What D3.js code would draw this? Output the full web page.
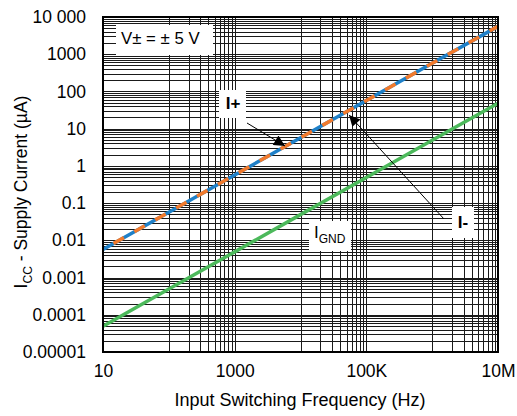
<!DOCTYPE html>
<html lang="en">
<head>
  <meta charset="UTF-8">
  <title>Supply Current vs Input Switching Frequency</title>
  <script src="https://cdn.jsdelivr.net/npm/d3@7/dist/d3.min.js"></script>
  <style>
    body{ margin:0; background:#fff; }
    svg text{ font-family: "Liberation Sans", Arial, sans-serif; fill:#000; }
  </style>
</head>
<body>
<div class="chart"></div>
<script>
// frequencies (Hz) and currents (uA)
const freq = [10, 100, 1000, 10000, 100000, 1000000, 10000000];
const iPlus = [0.0057, 0.057, 0.57, 5.7, 57, 570, 5600];
const iMinus = [0.0057, 0.057, 0.57, 5.7, 57, 570, 5600];
const iGnd = [0.000049, 0.00049, 0.0049, 0.049, 0.49, 4.9, 48];

const xTicks = [10, 1000, 100000, 10000000];
const xTickLabels = ['10', '1000', '100K', '10M'];
const yTicks = [1e4, 1e3, 100, 10, 1, 0.1, 0.01, 0.001, 0.0001, 0.00001];
const yTickLabels = ['10 000', '1000', '100', '10', '1', '0.1', '0.01', '0.001', '0.0001', '0.00001'];

const W = 517, H = 416;
const plot = {left: 103, right: 498, top: 17, bottom: 352};
const FS = '17.5px';

const svg = d3.select('.chart').append('svg').attr('width', W).attr('height', H);

const x = d3.scaleLog().domain([10, 1e7]).range([plot.left, plot.right]);
const y = d3.scaleLog().domain([1e-5, 1e4]).range([plot.bottom, plot.top]);

// grid: vertical minors sit at k * 10^(2n+2) between the 2-decade majors
let xGrid = [];
for (let i = 0; i < xTicks.length - 1; i++) {
  const step = xTicks[i] * 10;
  for (let k = 1; k <= 9; k++) xGrid.push(step * k);
}
let yGrid = [];
for (let e = -5; e < 4; e++) {
  for (let k = 2; k <= 9; k++) yGrid.push(k * Math.pow(10, e));
}

const grid = svg.append('g').attr('shape-rendering', 'crispEdges');
grid.selectAll('.hy').data(yGrid.concat(yTicks)).enter().append('line')
  .attr('x1', plot.left).attr('x2', plot.right)
  .attr('y1', d => Math.round(y(d)) + 0.5).attr('y2', d => Math.round(y(d)) + 0.5)
  .attr('stroke', '#1a1a1a').attr('stroke-width', 1);
grid.selectAll('.vx').data(xGrid.concat(xTicks)).enter().append('line')
  .attr('y1', plot.top).attr('y2', plot.bottom)
  .attr('x1', d => Math.round(x(d)) + 0.5).attr('x2', d => Math.round(x(d)) + 0.5)
  .attr('stroke', '#1a1a1a').attr('stroke-width', 1);

// axes (labels only)
const yAxis = d3.axisLeft(y).tickValues(yTicks).tickSize(0).tickPadding(17)
  .tickFormat((d, i) => yTickLabels[i]);
const gy = svg.append('g').attr('transform', `translate(${plot.left},0)`).call(yAxis);
gy.select('.domain').remove();
gy.selectAll('text').style('font-size', FS).attr('font-family', 'Liberation Sans, Arial, sans-serif');

const xAxis = d3.axisBottom(x).tickValues(xTicks).tickSize(0).tickPadding(13)
  .tickFormat((d, i) => xTickLabels[i]);
const gx = svg.append('g').attr('transform', `translate(0,${plot.bottom})`).call(xAxis);
gx.select('.domain').remove();
gx.selectAll('text').style('font-size', FS).attr('font-family', 'Liberation Sans, Arial, sans-serif');

// series
const line = d3.line().x(d => x(d[0])).y(d => y(d[1]));
const lines = svg.append('g');
lines.append('path').datum(freq.map((f, i) => [f, iMinus[i]]))
  .attr('d', line).attr('fill', 'none').attr('stroke', '#1f80c8').attr('stroke-width', 3.5);
lines.append('path').datum(freq.map((f, i) => [f, iPlus[i]]))
  .attr('d', line).attr('fill', 'none').attr('stroke', '#f27a2c').attr('stroke-width', 3.5)
  .attr('stroke-dasharray', '12 12').attr('stroke-dashoffset', 12);
lines.append('path').datum(freq.map((f, i) => [f, iGnd[i]]))
  .attr('d', line).attr('fill', 'none').attr('stroke', '#4cb95b').attr('stroke-width', 3.5);

// border
svg.append('rect').attr('x', plot.left).attr('y', plot.top)
  .attr('width', plot.right - plot.left).attr('height', plot.bottom - plot.top)
  .attr('fill', 'none').attr('stroke', '#000').attr('stroke-width', 2);

// annotations
svg.append('defs').append('marker').attr('id', 'arr')
  .attr('viewBox', '0 0 10 10').attr('refX', 10).attr('refY', 5)
  .attr('markerWidth', 13).attr('markerHeight', 11).attr('markerUnits', 'userSpaceOnUse')
  .attr('orient', 'auto')
  .append('path').attr('d', 'M0,0 L10,5 L0,10 z').attr('fill', '#000');

const ann = svg.append('g');
ann.append('rect').attr('x', 116).attr('y', 25).attr('width', 97).attr('height', 30).attr('fill', '#fff');
ann.append('text').attr('x', 121).attr('y', 43.5).style('font-size', '16.8px').text('V\u00b1 = \u00b1 5 V');

ann.append('rect').attr('x', 219).attr('y', 90).attr('width', 27).attr('height', 28).attr('fill', '#fff');
ann.append('text').attr('x', 233).attr('y', 109).attr('text-anchor', 'middle')
  .style('font-size', '17px').style('font-weight', 'bold').text('I+');
ann.append('line').attr('x1', 247).attr('y1', 123).attr('x2', 285).attr('y2', 146)
  .attr('stroke', '#000').attr('stroke-width', 1).attr('marker-end', 'url(#arr)');

ann.append('rect').attr('x', 452).attr('y', 207).attr('width', 22).attr('height', 31).attr('fill', '#fff');
ann.append('text').attr('x', 463).attr('y', 228).attr('text-anchor', 'middle')
  .style('font-size', '17px').style('font-weight', 'bold').text('I-');
ann.append('line').attr('x1', 444).attr('y1', 219).attr('x2', 349).attr('y2', 115)
  .attr('stroke', '#000').attr('stroke-width', 1).attr('marker-end', 'url(#arr)');

ann.append('rect').attr('x', 309).attr('y', 221).attr('width', 42).attr('height', 30).attr('fill', '#fff');
const tg = ann.append('text').attr('x', 314).attr('y', 238).style('font-size', '17px');
tg.append('tspan').text('I');
tg.append('tspan').attr('dy', 5).style('font-size', '12px').text('GND');

// axis titles
svg.append('text').attr('x', 300).attr('y', 406)
  .attr('text-anchor', 'middle').style('font-size', '18px').text('Input Switching Frequency (Hz)');
const yt = svg.append('text').attr('transform', `translate(27,192) rotate(-90)`)
  .attr('text-anchor', 'middle').style('font-size', '17.5px');
yt.append('tspan').text('I');
yt.append('tspan').attr('dy', 5).style('font-size', '12px').text('CC');
yt.append('tspan').attr('dy', -5).text(' - Supply Current (\u00b5A)');
</script>
</body>
</html>
